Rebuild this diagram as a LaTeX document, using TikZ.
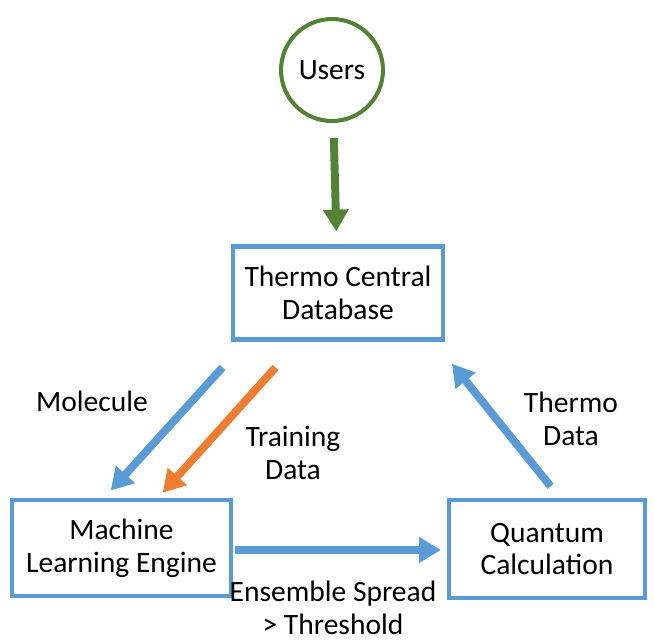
\documentclass[tikz,border=0pt]{standalone}
\usepackage{fontspec}
\setmainfont{Carlito}
\usetikzlibrary{arrows.meta}
\usetikzlibrary{positioning}
\definecolor{boxblue}{RGB}{91,155,213}
\definecolor{trainorange}{RGB}{237,125,49}
\definecolor{usergreen}{RGB}{84,130,53}
\tikzstyle{line} = [draw, line width=4.5pt, -{Triangle[length=12.5pt,width=14pt]}]

\begin{document}
\begin{tikzpicture}[x=0.02cm, y=-0.02cm,
	every node/.style={font=\fontsize{16.8}{18.6}\selectfont, align=center},
	box/.style={draw=boxblue, line width=2.3pt, rectangle, inner sep=0pt}]
	\useasboundingbox (0,0) rectangle (654,643);
	%% Blocks
	\node [circle, draw=usergreen, line width=2.3pt, minimum size=2.04cm] at (332,70) (U) {Users};
	\node [box, minimum width=4.2cm, minimum height=1.86cm] at (338,293) (DB) {Thermo Central\\Database};
	\node [box, minimum width=4.38cm, minimum height=1.92cm] at (121.5,548) (ML) {Machine\\Learning Engine};
	\node [box, minimum width=3.92cm, minimum height=1.96cm] at (547,549) (Q) {Quantum\\Calculation};
	%% Labels
	\node at (92,401) (mol) {Molecule};
	\node at (293,453) (train) {Training\\Data};
	\node at (571,419) (thermo) {Thermo\\Data};
	\node at (333,608) (ens) {Ensemble Spread\\> Threshold};
	%% Flows
	\path [line, usergreen, shorten <=0.3cm, shorten >=0.26cm] (U) -- (DB);
	\path [line, boxblue, shorten <=0.7cm, shorten >=0.2cm] ([xshift=0.3cm]DB.south west) -- ([xshift=1.88cm]ML.north west);
	\path [line, trainorange, shorten <=0.7cm, shorten >=0.14cm] ([xshift=1.36cm]DB.south west) -- ([xshift=2.96cm]ML.north west);
	\path [line, boxblue, shorten <=0.04cm, shorten >=0.12cm] ([yshift=-0.04cm]ML.east) -- ([yshift=-0.04cm]ML.east -| Q.west);
	\path [line, boxblue, shorten <=0.3cm, shorten >=0.57cm] ([xshift=2.26cm]Q.north west) -- ([xshift=-0.22cm]DB.south east);
\end{tikzpicture}
\end{document}
